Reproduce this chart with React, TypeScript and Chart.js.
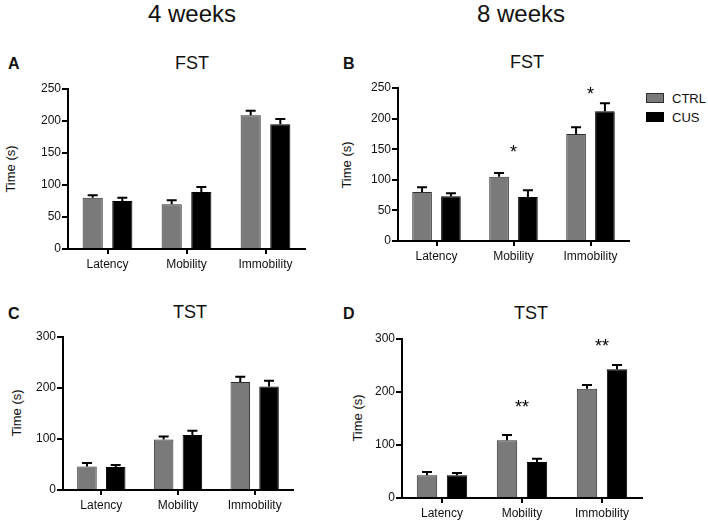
import React, { useEffect, useRef } from 'react';
import { Chart, registerables } from 'chart.js';
Chart.register(...registerables);

// ---------- data ----------
const categories = ['Latency', 'Mobility', 'Immobility'];
const seriesNames = ['CTRL', 'CUS'];

const fst4wCtrl = [80, 70, 209];
const fst4wCtrlSem = [4, 6, 7];
const fst4wCus = [75, 89, 195];
const fst4wCusSem = [5, 8, 8];
const fst4wStars = ['', '', ''];
const fst4wStarY = [0, 0, 0];

const fst8wCtrl = [80, 105, 175];
const fst8wCtrlSem = [8, 6, 11];
const fst8wCus = [73, 72, 212];
const fst8wCusSem = [5, 11, 13];
const fst8wStars = ['', '*', '*'];
const fst8wStarY = [0, 152, 247];

const tst4wCtrl = [46, 99, 212];
const tst4wCtrlSem = [7, 6, 10];
const tst4wCus = [45, 108, 203];
const tst4wCusSem = [4, 8, 11];
const tst4wStars = ['', '', ''];
const tst4wStarY = [0, 0, 0];

const tst8wCtrl = [43, 109, 206];
const tst8wCtrlSem = [6, 10, 7];
const tst8wCus = [43, 68, 243];
const tst8wCusSem = [4, 6, 8];
const tst8wStars = ['', '**', '**'];
const tst8wStarY = [0, 179, 294];

const fstTicksMax = 250;
const fstTickStep = 50;
const tstTicksMax = 300;
const tstTickStep = 100;

// ---------- styles ----------
const FONT = '"Liberation Sans", Arial, Helvetica, sans-serif';
const CTRL_FILL = '#7a7a7a';
const CTRL_BORDER = '#2e2e2e';
const CUS_FILL = '#000000';
const PAD_L = 46;
const PAD_T = 12;
const PAD_R = 6;
const X_H = 30;

type Box = { left: number; top: number; right: number; bottom: number };

function Panel(props: {
  ctrl: number[]; ctrlSem: number[]; cus: number[]; cusSem: number[];
  yMax: number; yStep: number; stars: string[]; starY: number[]; plot: Box;
}) {
  const ref = useRef<HTMLCanvasElement | null>(null);
  const { plot } = props;
  const w = plot.right - plot.left + PAD_L + PAD_R;
  const h = plot.bottom - plot.top + PAD_T + X_H;

  useEffect(() => {
    if (!ref.current) return;
    const sems = [props.ctrlSem, props.cusSem];
    const errPlugin = {
      id: 'errbars',
      afterDatasetsDraw(chart: any) {
        const ctx = chart.ctx;
        const ys = chart.scales.y;
        const xs = chart.scales.x;
        ctx.save();
        ctx.strokeStyle = '#000';
        ctx.lineWidth = 2;
        chart.data.datasets.forEach((ds: any, di: number) => {
          const meta = chart.getDatasetMeta(di);
          meta.data.forEach((el: any, i: number) => {
            const v = ds.data[i] as number;
            const top = ys.getPixelForValue(v + sems[di][i]);
            const x = el.x;
            ctx.beginPath();
            ctx.moveTo(x, el.y);
            ctx.lineTo(x, top);
            ctx.moveTo(x - 5, top);
            ctx.lineTo(x + 5, top);
            ctx.stroke();
          });
        });
        ctx.fillStyle = '#000';
        ctx.font = `18px ${FONT}`;
        ctx.textAlign = 'center';
        ctx.textBaseline = 'alphabetic';
        props.stars.forEach((s, i) => {
          if (!s) return;
          const x = xs.getPixelForValue(i);
          const y = ys.getPixelForValue(props.starY[i]);
          ctx.fillText(s, x, y + 10);
        });
        ctx.restore();
      },
    };

    const chart = new Chart(ref.current, {
      type: 'bar',
      data: {
        labels: categories,
        datasets: [
          {
            label: seriesNames[0], data: props.ctrl, backgroundColor: CTRL_FILL,
            borderColor: CTRL_BORDER, borderWidth: 1,
            categoryPercentage: 0.75, barPercentage: 0.68,
          },
          {
            label: seriesNames[1], data: props.cus, backgroundColor: CUS_FILL,
            borderColor: '#000', borderWidth: 1,
            categoryPercentage: 0.75, barPercentage: 0.68,
          },
        ],
      },
      options: {
        responsive: false,
        animation: false,
        devicePixelRatio: 1,
        layout: { padding: { left: 0, top: PAD_T, right: PAD_R, bottom: 0 } },
        plugins: { legend: { display: false }, tooltip: { enabled: false }, title: { display: false } },
        scales: {
          x: {
            type: 'category',
            offset: true,
            grid: { offset: false, drawOnChartArea: false, drawTicks: true, tickLength: 5, color: '#000', lineWidth: 2 },
            border: { display: true, color: '#000', width: 2 },
            ticks: { font: { family: FONT, size: 12 }, color: '#111', padding: 3, maxRotation: 0 },
            afterFit: (s: any) => { s.height = X_H; },
          },
          y: {
            min: 0, max: props.yMax,
            grid: { drawOnChartArea: false, drawTicks: true, tickLength: 6, color: '#000', lineWidth: 2 },
            border: { display: true, color: '#000', width: 2 },
            ticks: { stepSize: props.yStep, font: { family: FONT, size: 12 }, color: '#111', padding: 1 },
            afterFit: (s: any) => { s.width = PAD_L; },
          },
        },
      } as any,
      plugins: [errPlugin],
    });
    return () => chart.destroy();
  }, []);

  return (
    <canvas
      ref={ref}
      width={w}
      height={h}
      style={{ position: 'absolute', left: plot.left - PAD_L, top: plot.top - PAD_T, width: w, height: h }}
    />
  );
}

function Txt(props: { x: number; y: number; size: number; bold?: boolean; rotate?: boolean; align?: 'center' | 'left'; children: any }) {
  const tf = props.rotate
    ? 'translate(-50%,-50%) rotate(-90deg)'
    : props.align === 'left' ? 'none' : 'translateX(-50%)';
  return (
    <div
      style={{
        position: 'absolute', left: props.x, top: props.y, fontSize: props.size,
        fontWeight: props.bold ? 700 : 400, fontFamily: FONT, lineHeight: 1,
        whiteSpace: 'nowrap', transform: tf, color: '#111',
      }}
    >
      {props.children}
    </div>
  );
}

export default function App() {
  return (
    <div style={{ position: 'fixed', left: 0, top: 0, width: 708, height: 522, background: '#fff', overflow: 'hidden' }}>
      <Txt x={192} y={2} size={24}>4 weeks</Txt>
      <Txt x={521} y={2} size={24}>8 weeks</Txt>

      <Txt x={8} y={56} size={16} bold align="left">A</Txt>
      <Txt x={343} y={56} size={16} bold align="left">B</Txt>
      <Txt x={8} y={306} size={16} bold align="left">C</Txt>
      <Txt x={343} y={306} size={16} bold align="left">D</Txt>

      <Txt x={192} y={54} size={18}>FST</Txt>
      <Txt x={527} y={53} size={18}>FST</Txt>
      <Txt x={190} y={303} size={18}>TST</Txt>
      <Txt x={531} y={304} size={18}>TST</Txt>

      <Txt x={10} y={169} size={13} rotate>Time (s)</Txt>
      <Txt x={346} y={165} size={13} rotate>Time (s)</Txt>
      <Txt x={16} y={413} size={13} rotate>Time (s)</Txt>
      <Txt x={357} y={418} size={13} rotate>Time (s)</Txt>

      <Panel ctrl={fst4wCtrl} ctrlSem={fst4wCtrlSem} cus={fst4wCus} cusSem={fst4wCusSem}
        yMax={fstTicksMax} yStep={fstTickStep} stars={fst4wStars} starY={fst4wStarY}
        plot={{ left: 68, top: 89, right: 305, bottom: 249 }} />
      <Panel ctrl={fst8wCtrl} ctrlSem={fst8wCtrlSem} cus={fst8wCus} cusSem={fst8wCusSem}
        yMax={fstTicksMax} yStep={fstTickStep} stars={fst8wStars} starY={fst8wStarY}
        plot={{ left: 398, top: 88, right: 629, bottom: 241 }} />
      <Panel ctrl={tst4wCtrl} ctrlSem={tst4wCtrlSem} cus={tst4wCus} cusSem={tst4wCusSem}
        yMax={tstTicksMax} yStep={tstTickStep} stars={tst4wStars} starY={tst4wStarY}
        plot={{ left: 63, top: 337, right: 293, bottom: 490 }} />
      <Panel ctrl={tst8wCtrl} ctrlSem={tst8wCtrlSem} cus={tst8wCus} cusSem={tst8wCusSem}
        yMax={tstTicksMax} yStep={tstTickStep} stars={tst8wStars} starY={tst8wStarY}
        plot={{ left: 402, top: 339, right: 642, bottom: 498 }} />

      {/* legend */}
      <div style={{ position: 'absolute', left: 646, top: 93, width: 18, height: 10, background: CTRL_FILL, boxSizing: 'border-box', border: `1px solid ${CTRL_BORDER}` }} />
      <Txt x={672} y={92} size={13} align="left">{seriesNames[0]}</Txt>
      <div style={{ position: 'absolute', left: 646, top: 112, width: 18, height: 10, background: CUS_FILL }} />
      <Txt x={672} y={111} size={13} align="left">{seriesNames[1]}</Txt>
    </div>
  );
}
